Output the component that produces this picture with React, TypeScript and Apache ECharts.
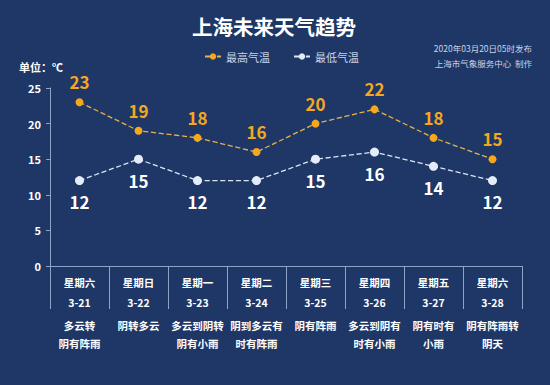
import React, { useEffect, useRef } from "react";
import * as echarts from "echarts";

const weekdays = ["星期六", "星期日", "星期一", "星期二", "星期三", "星期四", "星期五", "星期六"];
const dates = ["3-21", "3-22", "3-23", "3-24", "3-25", "3-26", "3-27", "3-28"];
const weather = [
  "多云转\n阴有阵雨",
  "阴转多云",
  "多云到阴转\n阴有小雨",
  "阴到多云有\n时有阵雨",
  "阴有阵雨",
  "多云到阴有\n时有小雨",
  "阴有时有\n小雨",
  "阴有阵雨转\n阴天",
];
const highTemps = [23, 19, 18, 16, 20, 22, 18, 15];
const lowTemps = [12, 15, 12, 12, 15, 16, 14, 12];
const titleText = "上海未来天气趋势";
const highName = "最高气温";
const lowName = "最低气温";
const publishText = "2020年03月20日05时发布";
const makerText = "上海市气象服务中心  制作";
const unitText = "单位：℃";

const FONT = "'Noto Sans CJK SC', 'Noto Sans', sans-serif";

export default function App() {
  const ref = useRef<HTMLDivElement>(null);
  useEffect(() => {
    if (!ref.current) return;
    const chart = echarts.init(ref.current, undefined, { renderer: "svg" });
    const categories = weekdays.map((w, i) => i);
    chart.setOption({
      animation: false,
      backgroundColor: "#1e3766",
      textStyle: { fontFamily: FONT },
      title: {
        text: titleText,
        left: 187,
        top: 11,
        textStyle: { color: "#ffffff", fontSize: 20.5, fontWeight: "bold", fontFamily: FONT },
      },
      legend: {
        top: 46,
        left: 199,
        itemWidth: 16,
        itemHeight: 8,
        itemGap: 23,
        textStyle: { color: "#c9d3e6", fontSize: 11, fontFamily: FONT },
        data: [highName, lowName],
      },
      graphic: [
        {
          type: "text",
          right: 18,
          top: 44,
          style: { text: publishText, fill: "#c9d3e6", fontSize: 8.5, fontFamily: FONT },
        },
        {
          type: "text",
          right: 18,
          top: 59,
          style: { text: makerText, fill: "#c9d3e6", fontSize: 8.5, fontFamily: FONT },
        },
        {
          type: "text",
          left: 19,
          top: 61,
          style: { text: unitText, fill: "#ffffff", fontSize: 11, fontWeight: "bold", fontFamily: FONT },
        },
      ],
      grid: { left: 50, right: 28, top: 88, bottom: 119 },
      xAxis: {
        type: "category",
        data: categories,
        boundaryGap: true,
        axisLine: { lineStyle: { color: "#8fa3c8", width: 1 } },
        axisTick: { show: true, length: 43, lineStyle: { color: "#8fa3c8" } },
        axisLabel: {
          interval: 0,
          margin: 6,
          formatter: (v: string) => {
            const i = Number(v);
            const desc = weather[i].split("\n").map((s) => `{b|${s}}`).join("\n");
            return `{a|${weekdays[i]}}\n{a|${dates[i]}}\n{g|}\n${desc}`;
          },
          rich: {
            a: { color: "#ffffff", fontSize: 10.5, fontWeight: "bold", lineHeight: 20, fontFamily: FONT },
            g: { lineHeight: 4, fontSize: 4 },
            b: { color: "#ffffff", fontSize: 10.5, fontWeight: "bold", lineHeight: 18, fontFamily: FONT },
          },
        },
      },
      yAxis: {
        type: "value",
        min: 0,
        max: 25,
        interval: 5,
        splitLine: { show: false },
        axisLine: { show: true, lineStyle: { color: "#8fa3c8" } },
        axisTick: { show: true, length: 4, lineStyle: { color: "#8fa3c8" } },
        axisLabel: { color: "#ffffff", fontSize: 11, fontWeight: "bold", margin: 9, fontFamily: FONT },
      },
      series: [
        {
          name: highName,
          type: "line",
          data: highTemps,
          symbol: "circle",
          symbolSize: 8,
          itemStyle: { color: "#f5a81c" },
          lineStyle: { color: "#e8b04a", width: 1.3, type: "dashed" },
          label: {
            show: true,
            position: "top",
            distance: 8,
            color: "#f5a81c",
            fontSize: 17,
            fontWeight: "bold",
            fontFamily: FONT,
          },
        },
        {
          name: lowName,
          type: "line",
          data: lowTemps,
          symbol: "circle",
          symbolSize: 9,
          itemStyle: { color: "#e3ecf8" },
          lineStyle: { color: "#dbe6f5", width: 1.3, type: "dashed" },
          label: {
            show: true,
            position: "bottom",
            distance: 8,
            color: "#ffffff",
            fontSize: 17,
            fontWeight: "bold",
            fontFamily: FONT,
          },
        },
      ],
    });
    return () => chart.dispose();
  }, []);
  return <div ref={ref} style={{ position: "fixed", left: 0, top: 0, width: 550, height: 385 }} />;
}
